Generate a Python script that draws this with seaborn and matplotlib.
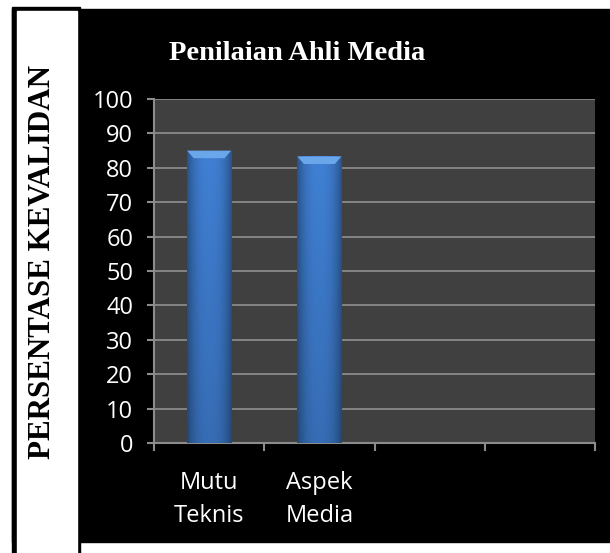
import numpy as np
import pandas as pd
import matplotlib
matplotlib.use("Agg")
import matplotlib.pyplot as plt
from matplotlib.patches import Rectangle
import seaborn as sns

# ---- data ----
categories = ["Mutu\nTeknis", "Aspek\nMedia"]
values = [85.0, 83.3]
n_slots = 4
yticks = [0, 10, 20, 30, 40, 50, 60, 70, 80, 90, 100]
title = "Penilaian Ahli Media"
ylabel = "PERSENTASE KEVALIDAN"

df = pd.DataFrame({"kategori": categories, "nilai": values})

sns.set_style("white")
W, H = 610, 553
fig = plt.figure(figsize=(W / 100, H / 100), dpi=100)
fig.patch.set_facecolor("white")

def fr(x0, y0, x1, y1):
    # pixel box (top-origin) -> figure fraction rect
    return (x0 / W, (H - y1) / H, (x1 - x0) / W, (y1 - y0) / H)

# background panels
x, y, w, h = fr(12, 9, 610, 542)
fig.patches.append(Rectangle((x, y), w, h, transform=fig.transFigure, color="black", zorder=-3))
x, y, w, h = fr(12, 7, 80, 553)
fig.patches.append(Rectangle((x, y), w, h, transform=fig.transFigure, color="black", zorder=-3))
x, y, w, h = fr(17, 11, 77, 553)
fig.patches.append(Rectangle((x, y), w, h, transform=fig.transFigure, color="white", zorder=-2))

ax = fig.add_axes(fr(154, 99, 595, 443))
ax.set_zorder(5)
ax.set_facecolor("#404040")

sns.barplot(data=df, x="kategori", y="nilai", ax=ax, width=0.40,
            color="#3b76c4", edgecolor="#1e3d6e", linewidth=0.8, saturation=1, zorder=3)

# gradient shading on bars
grad_x = np.linspace(-1, 1, 64)
shade = 1 - 0.35 * np.abs(grad_x) ** 2.5
grad_y = np.linspace(1.0, 0.85, 64)[:, None]
base = np.array([0x3b, 0x76, 0xc4]) / 255.0
img = np.clip(base[None, None, :] * (shade[None, :, None] * grad_y[:, :, None]) * 1.08, 0, 1)
for p in list(ax.patches):
    bx, by, bw, bh = p.get_x(), p.get_y(), p.get_width(), p.get_height()
    im = ax.imshow(img, extent=(bx, bx + bw, by, by + bh), aspect="auto", zorder=3.5,
                   interpolation="bilinear")
    im.set_clip_path(p)
    # lighter bevel on top
    ax.fill([bx, bx + bw, bx + bw * 0.85, bx + bw * 0.15],
            [by + bh, by + bh, by + bh - 2.2, by + bh - 2.2],
            color="#6aa6ea", zorder=3.6, lw=0)

ax.set_xlim(-0.5, n_slots - 0.5)
ax.set_ylim(0, 100)
ax.set_yticks(yticks)
ax.yaxis.grid(True, color="#8a8a8a", linewidth=1.3, zorder=1)
ax.set_axisbelow(True)

for s in ["top", "right"]:
    ax.spines[s].set_visible(False)
for s in ["left", "bottom"]:
    ax.spines[s].set_color("#8c8c8c")
    ax.spines[s].set_linewidth(1.5)

# x ticks at category boundaries, labels at centres
ax.set_xticks(np.arange(n_slots + 1) - 0.5)
ax.set_xticklabels([""] * (n_slots + 1))
ax.set_xticks(np.arange(len(categories)), minor=True)
ax.set_xticklabels(categories, minor=True, fontsize=17, color="white",
                   family=["Open Sans", "DejaVu Sans"], linespacing=1.5)
ax.tick_params(axis="x", which="major", direction="out", length=6, width=1.5,
               color="#8c8c8c", bottom=True)
ax.tick_params(axis="x", which="minor", length=0, pad=20)
ax.tick_params(axis="y", direction="out", length=5, width=1.5, color="#8c8c8c",
               labelsize=17, labelcolor="white", pad=10, left=True)
for t in ax.get_yticklabels():
    t.set_family(["Open Sans", "DejaVu Sans"])
ax.set_xlabel("")
ax.set_ylabel("")

fig.text(297 / W, (H - 53) / H, title, ha="center", va="center", color="white",
         fontsize=20.5, fontweight="bold", family=["Liberation Serif", "DejaVu Serif"])
fig.text(43 / W, (H - 262) / H, ylabel, ha="center", va="center", color="black",
         rotation=90, fontsize=22.3, fontweight="bold",
         family=["Liberation Serif", "DejaVu Serif"])

fig.savefig("out.png", dpi=100, facecolor=fig.get_facecolor())
